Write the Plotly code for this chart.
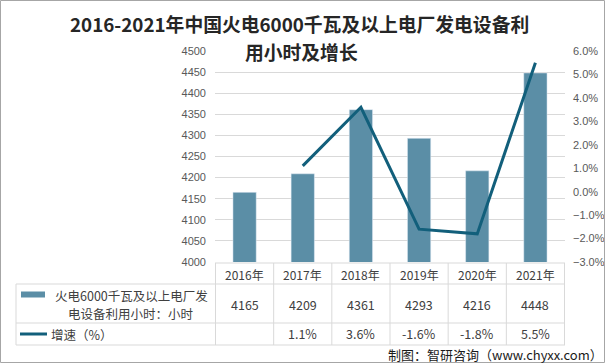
import plotly.graph_objects as go

years = ["2016年", "2017年", "2018年", "2019年", "2020年", "2021年"]
hours = [4165, 4209, 4361, 4293, 4216, 4448]
growth = [None, 1.1, 3.6, -1.6, -1.8, 5.5]
growth_labels = ["", "1.1%", "3.6%", "-1.6%", "-1.8%", "5.5%"]
series1_lines = ["火电6000千瓦及以上电厂发", "电设备利用小时：小时"]
series2_name = "增速（%）"
title_line1 = "2016-2021年中国火电6000千瓦及以上电厂发电设备利"
title_line2 = "用小时及增长"
source_text = "制图：智研咨询（www.chyxx.com）"

W, H = 606, 364
BAR_COLOR = "#5b8ea6"
LINE_COLOR = "#125f7b"
GRID = "#d9d9d9"
TXT = "#404040"
FONT = "Noto Sans CJK SC"


def px(v):
    return v / W


def py(v):
    return 1 - v / H


fig = go.Figure()
fig.add_trace(go.Bar(x=years, y=hours, marker_color=BAR_COLOR, name="bars",
                     showlegend=False))
fig.add_trace(go.Scatter(x=years, y=growth, yaxis="y2", mode="lines",
                         line=dict(color=LINE_COLOR, width=3),
                         connectgaps=False, showlegend=False))

x0p, x1p = 215, 565
fig.update_layout(
    width=W, height=H,
    margin=dict(l=0, r=0, t=0, b=0),
    paper_bgcolor="white", plot_bgcolor="white",
    bargap=0.6,
    font=dict(family=FONT, color=TXT),
    xaxis=dict(domain=[px(x0p), px(x1p)], showticklabels=False, showgrid=False,
               showline=False, zeroline=False, fixedrange=True, automargin=False),
    yaxis=dict(domain=[py(262), py(51)], range=[4000, 4500], dtick=50,
               showgrid=True, gridcolor=GRID, gridwidth=1, zeroline=False,
               tickfont=dict(family="Liberation Sans", size=11, color="#595959"),
               ticks="", ticklabelstandoff=8, automargin=False),
    yaxis2=dict(domain=[py(262), py(51)], range=[-3, 6], dtick=1, overlaying="y",
                side="right", showgrid=False, zeroline=False,
                tickformat=".1f", ticksuffix="%",
                tickfont=dict(family="Liberation Sans", size=11, color="#595959"),
                ticks="", ticklabelstandoff=7, automargin=False),
)

shapes = []
line_style = dict(color=GRID, width=1)
# outer border
shapes.append(dict(type="rect", xref="paper", yref="paper",
                   x0=px(0.5), x1=px(W - 1.5), y0=py(H - 1.5), y1=py(0.5),
                   line=dict(color="#a6a6a6", width=1)))
# horizontal table lines
shapes.append(dict(type="line", xref="paper", yref="paper", x0=px(x0p), x1=px(x1p),
                   y0=py(263), y1=py(263), line=line_style))
for yy in [284, 323, 345]:
    shapes.append(dict(type="line", xref="paper", yref="paper", x0=px(16), x1=px(x1p),
                       y0=py(yy), y1=py(yy), line=line_style))
# vertical table lines
shapes.append(dict(type="line", xref="paper", yref="paper", x0=px(16), x1=px(16),
                   y0=py(284), y1=py(345), line=line_style))
for i in range(len(years) + 1):
    xv = i - 0.5
    shapes.append(dict(type="line", xref="x", yref="paper", x0=xv, x1=xv,
                       y0=py(263), y1=py(345), line=line_style))
# legend swatches
shapes.append(dict(type="rect", xref="paper", yref="paper", x0=px(21), x1=px(45),
                   y0=py(297.5), y1=py(291.5), line=dict(width=0),
                   fillcolor=BAR_COLOR))
shapes.append(dict(type="line", xref="paper", yref="paper", x0=px(20), x1=px(47),
                   y0=py(334), y1=py(334), line=dict(color=LINE_COLOR, width=3)))
fig.update_layout(shapes=shapes)

ann = []
# title
ann.append(dict(text="<b>" + title_line1 + "</b>", x=px(299), y=py(24), xref="paper",
                yref="paper", showarrow=False, xanchor="center", yanchor="middle",
                font=dict(family=FONT, size=18.8, color="#262626")))
ann.append(dict(text="<b>" + title_line2 + "</b>", x=px(301), y=py(52), xref="paper",
                yref="paper", showarrow=False, xanchor="center", yanchor="middle",
                font=dict(family=FONT, size=18.8, color="#262626")))
# table contents
for i, yr in enumerate(years):
    ann.append(dict(text=yr, x=yr, y=py(274), xref="x", yref="paper", showarrow=False,
                    xanchor="center", yanchor="middle",
                    font=dict(family=FONT, size=12, color=TXT)))
    ann.append(dict(text=str(hours[i]), x=yr, y=py(304), xref="x", yref="paper",
                    showarrow=False, xanchor="center", yanchor="middle",
                    font=dict(family=FONT, size=12.5, color=TXT)))
    if growth_labels[i]:
        ann.append(dict(text=growth_labels[i], x=yr, y=py(333.5), xref="x", yref="paper",
                        showarrow=False, xanchor="center", yanchor="middle",
                        font=dict(family=FONT, size=12.5, color=TXT)))
for txt, yy in zip(series1_lines, [295, 313]):
    ann.append(dict(text=txt, x=px(131), y=py(yy), xref="paper", yref="paper",
                    showarrow=False, xanchor="center", yanchor="middle",
                    font=dict(family=FONT, size=12.5, color=TXT)))
ann.append(dict(text=series2_name, x=px(49), y=py(334), xref="paper", yref="paper",
                showarrow=False, xanchor="left", yanchor="middle",
                font=dict(family=FONT, size=12.5, color=TXT)))
ann.append(dict(text=source_text, x=px(605), y=py(354), xref="paper", yref="paper",
                showarrow=False, xanchor="right", yanchor="middle",
                font=dict(family=FONT, size=13, color="#1a1a1a")))
fig.update_layout(annotations=ann)

fig.write_html("out.html", config={"displayModeBar": False},
               post_script="document.body.style.margin='0';document.body.style.overflow='hidden';")
